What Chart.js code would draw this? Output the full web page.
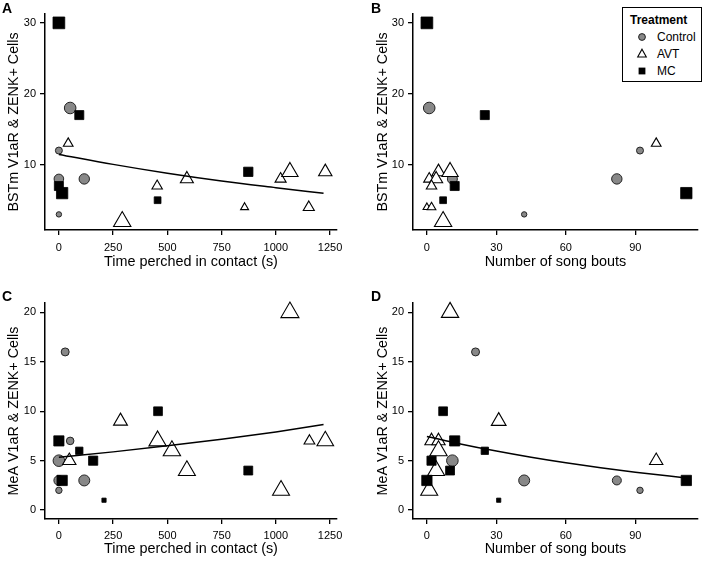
<!DOCTYPE html>
<html>
<head>
<meta charset="utf-8">
<script src="https://cdn.jsdelivr.net/npm/chart.js@4/dist/chart.umd.min.js"></script>
<style>
  html, body { margin: 0; padding: 0; background: #fff; }
  body { width: 709px; height: 561px; position: relative; overflow: hidden; font-family: "Liberation Sans", Arial, sans-serif; }
  canvas { position: absolute; }
  .plabel { position: absolute; font-weight: bold; font-size: 14px; line-height: 14px; color: #000; }
  #legend { position: absolute; left: 622px; top: 7px; width: 78px; height: 73px; border: 1.5px solid #000; background: #fff; }
  #legend .ttl { position: absolute; left: 7px; top: 5px; font-size: 12px; font-weight: bold; line-height: 14px; }
  #legend .row { position: absolute; left: 0; font-size: 12px; line-height: 14px; }
  #legend .row span { position: absolute; left: 34px; top: 0; white-space: nowrap; }
  #legend svg { position: absolute; left: 12px; top: 0; }
</style>
</head>
<body>
<canvas id="cA" width="354" height="280" style="left:0;top:0"></canvas>
<canvas id="cB" width="354" height="280" style="left:355px;top:0"></canvas>
<canvas id="cC" width="354" height="281" style="left:0;top:280px"></canvas>
<canvas id="cD" width="354" height="281" style="left:355px;top:280px"></canvas>

<div class="plabel" style="left:2px;top:1px">A</div>
<div class="plabel" style="left:371px;top:1px">B</div>
<div class="plabel" style="left:2px;top:289px">C</div>
<div class="plabel" style="left:371px;top:289px">D</div>

<div id="legend">
  <div class="ttl">Treatment</div>
  <div class="row" style="top:22px"><svg width="14" height="14"><circle cx="7" cy="7" r="3.4" fill="#888" stroke="#222" stroke-width="1"/></svg><span>Control</span></div>
  <div class="row" style="top:39px"><svg width="14" height="14"><polygon points="7,2.2 11.3,10 2.7,10" fill="#fff" stroke="#000" stroke-width="1.1"/></svg><span>AVT</span></div>
  <div class="row" style="top:56px"><svg width="14" height="14"><rect x="3.6" y="3.6" width="6.8" height="6.8" fill="#000"/></svg><span>MC</span></div>
</div>

<script>
// ---------- tick labels ----------
const xTicksTime = [0, 250, 500, 750, 1000, 1250];
const xTicksSong = [0, 30, 60, 90];
const yTicksBST = [10, 20, 30];
const yTicksMeA = [0, 5, 10, 15, 20];

const groups = ["Control", "AVT", "MC"];
const xTitleTime = "Time perched in contact (s)";
const xTitleSong = "Number of song bouts";
const yTitleBST = "BSTm V1aR & ZENK+ Cells";
const yTitleMeA = "MeA V1aR & ZENK+ Cells";

// ---------- Panel A: BSTm vs time perched ----------
const aControlX = [0, 52, 0, 117, 0];
const aControlY = [12, 18, 8, 8, 3];
const aAvtX = [43, 453, 590, 292, 856, 1022, 1065, 1152, 1228];
const aAvtY = [13, 7, 8, 2, 4, 8, 9, 4, 9];
const aMcX = [0, 94, 0, 15, 455, 873];
const aMcY = [30, 17, 7, 6, 5, 9];
const aFitX = [0, 250, 500, 750, 1000, 1220];
const aFitY = [11.45, 10.05, 8.8, 7.7, 6.76, 5.97];

// ---------- Panel B: BSTm vs song bouts ----------
const bControlX = [1, 11, 42, 82, 92];
const bControlY = [18, 8, 3, 8, 12];
const bAvtX = [99, 5, 10, 1, 4, 2, 0, 2, 7];
const bAvtY = [13, 9, 9, 8, 8, 7, 4, 4, 2];
const bMcX = [0, 25, 12, 7, 112];
const bMcY = [30, 17, 7, 5, 6];

// ---------- Panel C: MeA vs time perched ----------
const cControlX = [29, 52, 0, 0, 117, 0];
const cControlY = [16, 7, 5, 3, 3, 2];
const cAvtX = [1065, 284, 455, 521, 1155, 1228, 48, 590, 1024];
const cAvtY = [20, 9, 7, 6, 7, 7, 5, 4, 2];
const cMcX = [457, 0, 94, 158, 873, 15, 208];
const cMcY = [10, 7, 6, 5, 4, 3, 1];
const cFitX = [0, 250, 500, 750, 1000, 1220];
const cFitY = [5.34, 5.89, 6.5, 7.17, 7.91, 8.65];

// ---------- Panel D: MeA vs song bouts ----------
const dControlX = [21, 11, 42, 82, 92];
const dControlY = [16, 5, 3, 3, 2];
const dAvtX = [10, 31, 99, 2, 5, 5, 4, 1];
const dAvtY = [20, 9, 5, 7, 7, 6, 4, 2];
const dMcX = [7, 12, 25, 2, 10, 0, 112, 31];
const dMcY = [10, 7, 6, 5, 4, 3, 3, 1];
const dFitX = [0, 15, 30, 45, 60, 75, 90, 112];
const dFitY = [7.45, 6.67, 5.97, 5.34, 4.78, 4.28, 3.83, 3.25];

// ---------- marker radii (px) ----------
const aControlR = [3.5, 5.8, 4.8, 5.2, 2.7];
const aAvtR = [5.6, 6, 7.5, 10, 4.6, 6.4, 9.4, 6.4, 7.7];
const aMcR = [8.3, 6.4, 6.4, 8, 4.8, 6.6];
const bControlR = [5.8, 5, 2.7, 5.2, 3.5];
const bAvtR = [5.6, 7.7, 9.4, 6.4, 7.5, 6, 4.4, 5, 10];
const bMcR = [8.3, 6.4, 6.4, 4.8, 8];
const cControlR = [4, 3.8, 5.8, 5, 5.5, 3.2];
const cAvtR = [10.4, 8, 10, 10, 6.2, 9.6, 7.7, 9.8, 9.8];
const cMcR = [6.2, 7.2, 5.2, 6.5, 6.3, 7.3, 3];
const dControlR = [4, 5.8, 5.5, 4.5, 3.2];
const dAvtR = [10, 8.5, 7.7, 7.7, 7.7, 10, 9.8, 9.8];
const dMcR = [6.2, 7.2, 5.2, 6.5, 6.3, 7.3, 7.3, 3];

Chart.defaults.font.family = '"Liberation Sans", Arial, sans-serif';
Chart.defaults.color = '#000';

function pts(xs, ys) { return xs.map((x, i) => ({ x: x, y: ys[i] })); }

function makePanel(id, p) {
  const datasets = [];
  if (p.fit) {
    datasets.push({
      type: 'line', label: 'fit', data: pts(p.fit[0], p.fit[1]),
      showLine: true, pointRadius: 0, borderColor: '#000', borderWidth: 1.5,
      cubicInterpolationMode: 'monotone', fill: false, order: 0
    });
  }
  datasets.push({
    label: groups[2], data: pts(p.mc[0], p.mc[1]), pointStyle: 'rect',
    pointRadius: p.mc[2], backgroundColor: '#000', borderColor: '#000', borderWidth: 0.8, order: 1
  });
  datasets.push({
    label: groups[1], data: pts(p.avt[0], p.avt[1]), pointStyle: 'triangle',
    pointRadius: p.avt[2], backgroundColor: '#fff', borderColor: '#000', borderWidth: 1.1, order: 2
  });
  datasets.push({
    label: groups[0], data: pts(p.ctrl[0], p.ctrl[1]), pointStyle: 'circle',
    pointRadius: p.ctrl[2], backgroundColor: '#888', borderColor: '#222', borderWidth: 1, order: 3
  });

  new Chart(document.getElementById(id), {
    type: 'scatter',
    data: { datasets: datasets },
    options: {
      responsive: false, animation: false, events: [],
      clip: false,
      layout: { padding: p.pad },
      plugins: { legend: { display: false }, tooltip: { enabled: false } },
      scales: {
        x: {
          type: 'linear', min: p.xMin, max: p.xMax,
          afterBuildTicks: s => { s.ticks = p.xTicks.map(v => ({ value: v })); },
          afterFit: s => { s.height = p.xH; },
          ticks: { callback: v => String(v), font: { size: 11 }, padding: p.xPad, maxRotation: 0, autoSkip: false, color: '#000' },
          grid: { display: true, drawOnChartArea: false, drawTicks: true, tickLength: 5, color: '#000', lineWidth: 1.3 },
          border: { display: true, color: '#000', width: 1.5 },
          title: { display: true, text: p.xTitle, font: { size: 14.4 }, color: '#000', padding: { top: 0, bottom: p.xTitlePad } }
        },
        y: {
          type: 'linear', min: p.yMin, max: p.yMax,
          afterBuildTicks: s => { s.ticks = p.yTicks.map(v => ({ value: v })); },
          afterFit: s => { s.width = p.yW; },
          ticks: { callback: v => String(v), font: { size: 11 }, padding: 4, autoSkip: false, color: '#000' },
          grid: { display: true, drawOnChartArea: false, drawTicks: true, tickLength: 5, color: '#000', lineWidth: 1.3 },
          border: { display: true, color: '#000', width: 1.5 },
          title: { display: true, text: p.yTitle, font: { size: 14.3 }, color: '#000', padding: { top: 5.5, bottom: 0 } }
        }
      }
    }
  });
}

const timeRange = { xMin: -64, xMax: 1282, xTicks: xTicksTime, xTitle: xTitleTime };
const songRange = { xMin: -6, xMax: 117, xTicks: xTicksSong, xTitle: xTitleSong };
const bstRange = { yMin: 0.8, yMax: 31.25, yTicks: yTicksBST, yTitle: yTitleBST };
const meaRange = { yMin: -0.9, yMax: 20.95, yTicks: yTicksMeA, yTitle: yTitleMeA };

makePanel('cA', Object.assign({}, timeRange, bstRange, {
  pad: { left: 0, top: 14, right: 17, bottom: 0 }, yW: 45, xH: 50, xPad: 6, xTitlePad: 9.5,
  ctrl: [aControlX, aControlY, aControlR], avt: [aAvtX, aAvtY, aAvtR], mc: [aMcX, aMcY, aMcR],
  fit: [aFitX, aFitY]
}));
makePanel('cB', Object.assign({}, songRange, bstRange, {
  pad: { left: 14, top: 14, right: 4, bottom: 0 }, yW: 44, xH: 50, xPad: 6, xTitlePad: 9.5,
  ctrl: [bControlX, bControlY, bControlR], avt: [bAvtX, bAvtY, bAvtR], mc: [bMcX, bMcY, bMcR],
  fit: null
}));
makePanel('cC', Object.assign({}, timeRange, meaRange, {
  pad: { left: 0, top: 23, right: 17, bottom: 0 }, yW: 45, xH: 42, xPad: 5, xTitlePad: 3,
  ctrl: [cControlX, cControlY, cControlR], avt: [cAvtX, cAvtY, cAvtR], mc: [cMcX, cMcY, cMcR],
  fit: [cFitX, cFitY]
}));
makePanel('cD', Object.assign({}, songRange, meaRange, {
  pad: { left: 14, top: 23, right: 4, bottom: 0 }, yW: 44, xH: 42, xPad: 5, xTitlePad: 3,
  ctrl: [dControlX, dControlY, dControlR], avt: [dAvtX, dAvtY, dAvtR], mc: [dMcX, dMcY, dMcR],
  fit: [dFitX, dFitY]
}));
</script>
</body>
</html>
